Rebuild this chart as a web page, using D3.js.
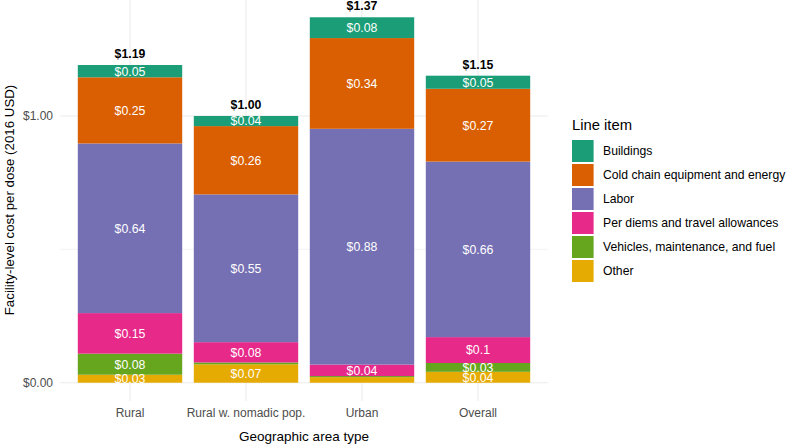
<!DOCTYPE html>
<html><head><meta charset="utf-8">
<script src="https://cdn.jsdelivr.net/npm/d3@7"></script>
<style>body{margin:0;background:#fff;} text{font-family:"Liberation Sans",Arial,sans-serif;}</style>
</head><body><svg id="c" width="787" height="444"></svg>
<script>
const categories = ["Rural", "Rural w. nomadic pop.", "Urban", "Overall"];
const lineItems = ["Buildings", "Cold chain equipment and energy", "Labor", "Per diems and travel allowances", "Vehicles, maintenance, and fuel", "Other"];
const colors = ["#1B9E77", "#D95F02", "#7570B3", "#E7298A", "#66A61E", "#E6AB02"];
// values per category (same order as categories)
const buildings = [0.046, 0.038, 0.078, 0.049];
const coldChain = [0.248, 0.256, 0.340, 0.273];
const labor     = [0.636, 0.554, 0.884, 0.658];
const perDiems  = [0.152, 0.076, 0.043, 0.097];
const vehicles  = [0.079, 0.007, 0.004, 0.033];
const other     = [0.030, 0.069, 0.021, 0.041];
const yTicks = [0, 1];
const yMinor = [0.5];

const series = [buildings, coldChain, labor, perDiems, vehicles, other];
const svg = d3.select("#c");
const panel = {l: 60.4, r: 547.6, t: -1, b: 401};
const maxTotal = d3.max(categories, (c, i) => d3.sum(series, s => s[i]));
const y = d3.scaleLinear().domain([-0.05 * maxTotal, maxTotal * 1.05]).range([panel.b, panel.t]);
const x = d3.scalePoint().domain(categories).range([panel.l, panel.r]).padding(0.6);
const cx = c => x(c);
const bw = x.step() * 0.9;

const g = svg.append("g");
// gridlines
yMinor.forEach(v => g.append("line").attr("x1", panel.l).attr("x2", panel.r).attr("y1", y(v)).attr("y2", y(v)).attr("stroke", "#ebebeb").attr("stroke-width", 0.6));
yTicks.forEach(v => g.append("line").attr("x1", panel.l).attr("x2", panel.r).attr("y1", y(v)).attr("y2", y(v)).attr("stroke", "#ebebeb").attr("stroke-width", 1.1));
categories.forEach(c => g.append("line").attr("x1", cx(c)).attr("x2", cx(c)).attr("y1", panel.t).attr("y2", panel.b).attr("stroke", "#ebebeb").attr("stroke-width", 1.1));

const fmt = v => "$" + String(Math.round(v * 100) / 100);
// stacked bars: stack order bottom = Other, top = Buildings
categories.forEach((c, i) => {
  let base = 0;
  for (let k = series.length - 1; k >= 0; k--) {
    const v = series[k][i];
    g.append("rect").attr("x", cx(c) - bw / 2).attr("width", bw)
      .attr("y", y(base + v)).attr("height", y(base) - y(base + v)).attr("fill", colors[k]);
    base += v;
  }
  base = 0;
  for (let k = series.length - 1; k >= 0; k--) {
    const v = series[k][i];
    if (v >= 0.025) {
      g.append("text").attr("x", cx(c)).attr("y", y(base + v / 2)).attr("dy", "0.36em")
        .attr("text-anchor", "middle").attr("fill", "#fff").attr("font-size", 12.3).text(fmt(v));
    }
    base += v;
  }
  g.append("text").attr("x", cx(c)).attr("y", y(base) - 7).attr("text-anchor", "middle")
    .attr("font-size", 12.3).attr("font-weight", "bold").attr("fill", "#000").text("$" + base.toFixed(2));
});

// y tick labels
yTicks.forEach(v => g.append("text").attr("x", 53).attr("y", y(v)).attr("dy", "0.36em").attr("text-anchor", "end")
  .attr("font-size", 12).attr("fill", "#4d4d4d").text("$" + v.toFixed(2)));
// x tick labels
categories.forEach(c => g.append("text").attr("x", cx(c)).attr("y", 417).attr("text-anchor", "middle")
  .attr("font-size", 12).attr("fill", "#4d4d4d").text(c));
// axis titles
g.append("text").attr("x", (panel.l + panel.r) / 2).attr("y", 441).attr("text-anchor", "middle").attr("font-size", 13.5).attr("fill", "#000").text("Geographic area type");
g.append("text").attr("transform", `translate(14,200) rotate(-90)`).attr("text-anchor", "middle").attr("font-size", 13.3).attr("fill", "#000").text("Facility-level cost per dose (2016 USD)");

// legend
const lg = svg.append("g").attr("transform", "translate(572,0)");
lg.append("text").attr("x", 0).attr("y", 130).attr("font-size", 14.8).attr("fill", "#000").text("Line item");
lineItems.forEach((name, k) => {
  const yy = 140 + k * 24;
  lg.append("rect").attr("x", 0).attr("y", yy).attr("width", 21.6).attr("height", 22).attr("fill", colors[k]);
  lg.append("text").attr("x", 31).attr("y", yy + 11).attr("dy", "0.36em").attr("font-size", 12.2).attr("fill", "#000").text(name);
});
</script></body></html>
